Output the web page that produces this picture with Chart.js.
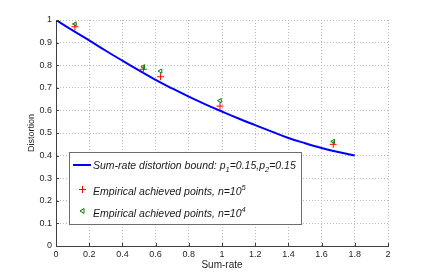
<!DOCTYPE html>
<html>
<head>
<meta charset="utf-8">
<script src="https://cdn.jsdelivr.net/npm/chart.js@4/dist/chart.umd.min.js"></script>
<style>
  html, body { margin: 0; padding: 0; background: #fff; }
  #wrap { width: 429px; height: 277px; }
</style>
</head>
<body>
<div id="wrap"><canvas id="grafico"></canvas></div>
<script>
// Curva limite (sum-rate x distorção)
const boundRate = [0, 0.1, 0.2, 0.3, 0.4, 0.5, 0.6, 0.7, 0.8, 0.9, 1.0, 1.1, 1.2, 1.3, 1.4, 1.5, 1.6, 1.7, 1.8];
const boundDist = [1.0, 0.954, 0.910, 0.864, 0.820, 0.777, 0.735, 0.697, 0.661, 0.627, 0.595, 0.564, 0.535, 0.506, 0.478, 0.455, 0.434, 0.416, 0.400];

// Pontos empíricos
const rateN5 = [0.114, 0.526, 0.630, 0.988, 1.670];
const distN5 = [0.970, 0.782, 0.749, 0.619, 0.450];
const rateN4 = [0.114, 0.526, 0.630, 0.988, 1.670];
const distN4 = [0.982, 0.793, 0.774, 0.643, 0.463];

// Ticks
const xTicks = [0, 0.2, 0.4, 0.6, 0.8, 1, 1.2, 1.4, 1.6, 1.8, 2];
const xTickLabels = ["0", "0.2", "0.4", "0.6", "0.8", "1", "1.2", "1.4", "1.6", "1.8", "2"];
const yTicks = [0, 0.1, 0.2, 0.3, 0.4, 0.5, 0.6, 0.7, 0.8, 0.9, 1];
const yTickLabels = ["0", "0.1", "0.2", "0.3", "0.4", "0.5", "0.6", "0.7", "0.8", "0.9", "1"];

const pares = (xs, ys) => xs.map((x, i) => ({x: x, y: ys[i]}));
const fonte = "'Liberation Sans', Arial, sans-serif";

// Marcas de tick para dentro (estilo MATLAB)
const ticksPlugin = {
    id: 'ticksDentro',
    afterDraw(chart) {
        const ctx = chart.ctx;
        const a = chart.chartArea;
        const sx = chart.scales.x, sy = chart.scales.y;
        ctx.save();
        ctx.strokeStyle = '#404040';
        ctx.lineWidth = 1;
        ctx.beginPath();
        xTicks.forEach(v => {
            const px = Math.round(sx.getPixelForValue(v)) + 0.5;
            ctx.moveTo(px, a.bottom);
            ctx.lineTo(px, a.bottom - 3);
        });
        yTicks.forEach(v => {
            const py = Math.round(sy.getPixelForValue(v)) + 0.5;
            ctx.moveTo(a.left, py);
            ctx.lineTo(a.left + 3, py);
        });
        ctx.stroke();
        ctx.restore();
    }
};

// Legenda desenhada à mão (precisa de subscritos)
const legendaPlugin = {
    id: 'legendaMatlab',
    afterDraw(chart) {
        const ctx = chart.ctx;
        ctx.save();
        const bx = 69.5, by = 152.5, bw = 232, bh = 72;
        ctx.fillStyle = '#fff';
        ctx.fillRect(bx, by, bw, bh);
        ctx.strokeStyle = '#6e6e6e';
        ctx.lineWidth = 1;
        ctx.strokeRect(bx, by, bw, bh);

        // linha azul
        ctx.strokeStyle = '#0000ff';
        ctx.lineWidth = 2;
        ctx.beginPath();
        ctx.moveTo(73, 165);
        ctx.lineTo(91, 165);
        ctx.stroke();

        // cruz vermelha
        ctx.strokeStyle = '#ff0000';
        ctx.lineWidth = 1;
        ctx.beginPath();
        ctx.moveTo(79, 189.5); ctx.lineTo(86, 189.5);
        ctx.moveTo(82.5, 186); ctx.lineTo(82.5, 193);
        ctx.stroke();

        // triângulo verde
        ctx.strokeStyle = '#008000';
        ctx.beginPath();
        ctx.moveTo(80, 211);
        ctx.lineTo(84, 208.5);
        ctx.lineTo(84, 213.5);
        ctx.closePath();
        ctx.stroke();

        ctx.fillStyle = '#1a1a1a';
        ctx.textBaseline = 'alphabetic';
        const normal = "italic 10.5px " + fonte;
        const pequeno = "italic 7.5px " + fonte;
        const escrever = (partes, x, y) => {
            partes.forEach(p => {
                ctx.font = p.s ? pequeno : normal;
                const dy = p.s === 'sub' ? 3 : (p.s === 'sup' ? -5 : 0);
                ctx.fillText(p.t, x, y + dy);
                x += ctx.measureText(p.t).width;
            });
        };
        escrever([{t: 'Sum-rate distortion bound: p'}, {t: '1', s: 'sub'}, {t: '=0.15,p'}, {t: '2', s: 'sub'}, {t: '=0.15'}], 93, 169);
        escrever([{t: 'Empirical achieved points, n=10'}, {t: '5', s: 'sup'}], 93, 195);
        escrever([{t: 'Empirical achieved points, n=10'}, {t: '4', s: 'sup'}], 93, 217);
        ctx.restore();
    }
};

new Chart(document.getElementById('grafico').getContext('2d'), {
    type: 'scatter',
    data: {
        datasets: [{
            label: 'Sum-rate distortion bound',
            data: pares(boundRate, boundDist),
            showLine: true,
            borderColor: '#0000ff',
            borderWidth: 2,
            pointRadius: 0,
            tension: 0.4,
            order: 3
        }, {
            label: 'n=10^5',
            data: pares(rateN5, distN5),
            pointStyle: 'cross',
            pointRadius: 3.5,
            borderColor: '#ff0000',
            borderWidth: 1,
            order: 2
        }, {
            label: 'n=10^4',
            data: pares(rateN4, distN4),
            pointStyle: 'triangle',
            rotation: -90,
            pointRadius: 2.5,
            borderColor: '#008000',
            backgroundColor: 'rgba(0,0,0,0)',
            borderWidth: 1,
            order: 1
        }]
    },
    options: {
        responsive: true,
        maintainAspectRatio: false,
        animation: false,
        layout: { padding: { top: 20, right: 41, left: 26, bottom: 6 } },
        plugins: { legend: { display: false }, tooltip: { enabled: false } },
        scales: {
            x: {
                type: 'linear', min: 0, max: 2,
                afterBuildTicks: s => { s.ticks = xTicks.map(v => ({value: v})); },
                afterFit: s => { s.height = 25; },
                ticks: {
                    callback: (v, i) => xTickLabels[i],
                    color: '#262626', font: { family: fonte, size: 9 }, padding: 3, maxRotation: 0
                },
                grid: { color: '#b8b8b8', drawTicks: false },
                border: { color: '#404040', width: 1, dash: [1, 2] },
                title: { display: true, text: 'Sum-rate', color: '#262626', font: { family: fonte, size: 10 }, padding: { top: 0, bottom: 0 } }
            },
            y: {
                type: 'linear', min: 0, max: 1,
                afterBuildTicks: s => { s.ticks = yTicks.map(v => ({value: v})); },
                afterFit: s => { s.width = 30; },
                ticks: {
                    callback: (v, i) => yTickLabels[i],
                    color: '#262626', font: { family: fonte, size: 9 }, padding: 4
                },
                grid: { color: '#b8b8b8', drawTicks: false },
                border: { color: '#404040', width: 1, dash: [1, 2] },
                title: { display: true, text: 'Distortion', color: '#262626', font: { family: fonte, size: 9 }, padding: { top: 0, bottom: 0 } }
            }
        }
    },
    plugins: [ticksPlugin, legendaPlugin]
});
</script>
</body>
</html>
